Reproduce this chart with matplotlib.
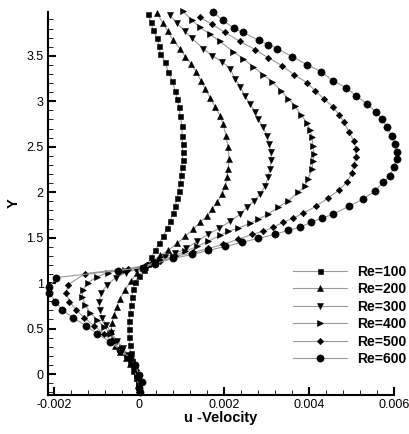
import matplotlib
matplotlib.use("Agg")
import matplotlib.pyplot as plt
from matplotlib.ticker import MultipleLocator, FixedLocator, FixedFormatter

plt.rcParams['font.family'] = ['Liberation Sans', 'DejaVu Sans']

# u-velocity profiles along Y for each Reynolds number
y_100 = [3.956, 3.867, 3.779, 3.691, 3.613, 3.525, 3.436, 3.326, 3.227, 3.116, 3.028, 2.939,
         2.840, 2.729, 2.619, 2.530, 2.442, 2.354, 2.276, 2.188, 2.099, 2.011, 1.934, 1.845,
         1.768, 1.680, 1.602, 1.514, 1.436, 1.359, 1.282, 1.215, 1.149, 1.083, 1.017, 0.939,
         0.851, 0.762, 0.674, 0.586, 0.497, 0.409, 0.320, 0.232, 0.144, 0.066, -0.011, -0.099, -0.188]
u_100 = [0.000212, 0.000282, 0.000329, 0.000424, 0.000471, 0.000494, 0.000612, 0.000682, 0.000776,
         0.000847, 0.000894, 0.000941, 0.000965, 0.001012, 0.001012, 0.001024, 0.001024, 0.001024,
         0.001012, 0.000988, 0.000965, 0.000929, 0.000894, 0.000847, 0.000800, 0.000729, 0.000659,
         0.000565, 0.000471, 0.000376, 0.000282, 0.000212, 0.000118, 0.0, -0.000094, -0.000141,
         -0.000165, -0.000188, -0.000212, -0.000235, -0.000235, -0.000235, -0.000224, -0.000200,
         -0.000165, -0.000118, -0.000071, -0.000024, 0.0]

y_200 = [3.967, 3.856, 3.768, 3.669, 3.580, 3.492, 3.414, 3.326, 3.227, 3.138, 3.039, 2.939,
         2.840, 2.751, 2.619, 2.497, 2.365, 2.254, 2.166, 2.066, 1.978, 1.890, 1.812, 1.735,
         1.669, 1.591, 1.514, 1.436, 1.359, 1.304, 1.238, 1.182, 1.116, 1.028, 0.928, 0.829,
         0.740, 0.652, 0.564, 0.475, 0.387, 0.309, 0.243, 0.177, 0.111, 0.033, -0.044, -0.122, -0.199]
u_200 = [0.000424, 0.000565, 0.000682, 0.000800, 0.000965, 0.001082, 0.001224, 0.001341, 0.001459,
         0.001553, 0.001671, 0.001788, 0.001906, 0.001976, 0.002047, 0.002094, 0.002118, 0.002094,
         0.002071, 0.002024, 0.001953, 0.001835, 0.001718, 0.001600, 0.001435, 0.001271, 0.001082,
         0.000894, 0.000682, 0.000494, 0.000306, 0.000141, -0.000047, -0.000188, -0.000329,
         -0.000447, -0.000518, -0.000588, -0.000635, -0.000659, -0.000635, -0.000565, -0.000447,
         -0.000306, -0.000212, -0.000118, -0.000047, -0.000024, 0.0]

y_300 = [3.945, 3.856, 3.768, 3.691, 3.580, 3.503, 3.436, 3.359, 3.249, 3.160, 3.061, 2.972,
         2.884, 2.807, 2.718, 2.619, 2.530, 2.442, 2.354, 2.254, 2.166, 2.066, 1.978, 1.901,
         1.834, 1.757, 1.680, 1.602, 1.536, 1.459, 1.381, 1.326, 1.282, 1.227, 1.182, 1.149,
         1.116, 1.061, 0.983, 0.895, 0.796, 0.707, 0.619, 0.541, 0.453, 0.365, 0.287, 0.210,
         0.133, 0.044, -0.044, -0.122, -0.199]
u_300 = [0.000729, 0.000894, 0.001082, 0.001247, 0.001506, 0.001718, 0.001953, 0.002141, 0.002259,
         0.002376, 0.002494, 0.002612, 0.002729, 0.002800, 0.002918, 0.003012, 0.003059, 0.003106,
         0.003106, 0.003082, 0.003035, 0.002965, 0.002847, 0.002706, 0.002541, 0.002376, 0.002141,
         0.001882, 0.001624, 0.001365, 0.001106, 0.000847, 0.000612, 0.000376, 0.000188, -0.000071,
         -0.000306, -0.000541, -0.000753, -0.000894, -0.000941, -0.000918, -0.000871, -0.000776,
         -0.000659, -0.000518, -0.000376, -0.000259, -0.000165, -0.000094, -0.000047, 0.0, 0.0]

y_400 = [3.989, 3.890, 3.812, 3.735, 3.658, 3.547, 3.470, 3.381, 3.293, 3.216, 3.116, 3.028,
         2.950, 2.851, 2.763, 2.685, 2.608, 2.508, 2.420, 2.343, 2.254, 2.144, 2.066, 2.000,
         1.901, 1.834, 1.757, 1.702, 1.658, 1.602, 1.569, 1.525, 1.459, 1.403, 1.348, 1.293,
         1.249, 1.204, 1.171, 1.149, 1.116, 1.072, 1.006, 0.928, 0.851, 0.762, 0.674, 0.597,
         0.519, 0.442, 0.365, 0.287, 0.210, 0.133, 0.044, -0.044, -0.133, -0.199]
u_400 = [0.001035, 0.001247, 0.001435, 0.001671, 0.001906, 0.002212, 0.002447, 0.002682, 0.002918,
         0.003129, 0.003341, 0.003506, 0.003671, 0.003812, 0.003953, 0.004024, 0.004071, 0.004094,
         0.004118, 0.004094, 0.004071, 0.003976, 0.003906, 0.003741, 0.003506, 0.003271, 0.003035,
         0.002800, 0.002612, 0.002329, 0.002094, 0.001906, 0.001624, 0.001365, 0.001082, 0.000800,
         0.000494, 0.000259, 0.000094, -0.000329, -0.000729, -0.000988, -0.001200, -0.001318,
         -0.001341, -0.001271, -0.001153, -0.000988, -0.000824, -0.000682, -0.000541, -0.000400,
         -0.000282, -0.000188, -0.000118, -0.000047, 0.0, 0.000024]

y_500 = [3.923, 3.845, 3.757, 3.658, 3.569, 3.481, 3.392, 3.293, 3.205, 3.116, 3.028, 2.939,
         2.851, 2.774, 2.663, 2.564, 2.475, 2.387, 2.298, 2.210, 2.111, 2.022, 1.934, 1.845,
         1.768, 1.713, 1.669, 1.613, 1.569, 1.536, 1.481, 1.425, 1.381, 1.337, 1.293, 1.238,
         1.193, 1.160, 1.105, 0.983, 0.895, 0.796, 0.707, 0.619, 0.530, 0.442, 0.354, 0.276,
         0.199, 0.122, 0.044, -0.044, -0.122, -0.199]
u_500 = [0.001435, 0.001718, 0.002024, 0.002376, 0.002729, 0.003035, 0.003365, 0.003647, 0.003953,
         0.004141, 0.004353, 0.004565, 0.004706, 0.004824, 0.004941, 0.005059, 0.005106, 0.005106,
         0.005059, 0.005012, 0.004894, 0.004706, 0.004447, 0.004165, 0.003859, 0.003624, 0.003388,
         0.003153, 0.002918, 0.002659, 0.002329, 0.001976, 0.001624, 0.001271, 0.000847, 0.000494,
         0.000141, -0.000259, -0.001271, -0.001671, -0.001718, -0.001647, -0.001482, -0.001294,
         -0.001059, -0.000824, -0.000635, -0.000447, -0.000282, -0.000165, -0.000071, -0.000024,
         0.0, 0.0]

y_600 = [3.978, 3.890, 3.801, 3.757, 3.669, 3.624, 3.580, 3.492, 3.403, 3.326, 3.227, 3.149,
         3.061, 2.972, 2.884, 2.807, 2.718, 2.619, 2.530, 2.442, 2.365, 2.276, 2.177, 2.110,
         2.011, 1.923, 1.845, 1.757, 1.713, 1.669, 1.613, 1.580, 1.536, 1.492, 1.448, 1.403,
         1.359, 1.315, 1.271, 1.215, 1.171, 1.138, 1.061, 0.961, 0.895, 0.796, 0.707, 0.619,
         0.530, 0.442, 0.354, 0.265, 0.177, 0.099, -0.011, -0.088, -0.155, -0.199]
u_600 = [0.001741, 0.001976, 0.002235, 0.002447, 0.002824, 0.003035, 0.003247, 0.003600, 0.003953,
         0.004282, 0.004565, 0.004871, 0.005106, 0.005365, 0.005576, 0.005718, 0.005835, 0.005953,
         0.006024, 0.006071, 0.006071, 0.006000, 0.005906, 0.005741, 0.005553, 0.005271, 0.004941,
         0.004565, 0.004306, 0.004047, 0.003788, 0.003506, 0.003200, 0.002800, 0.002424, 0.002024,
         0.001624, 0.001247, 0.000800, 0.000376, 0.000094, -0.000494, -0.001953, -0.002118,
         -0.002118, -0.001976, -0.001812, -0.001553, -0.001247, -0.000988, -0.000682, -0.000447,
         -0.000212, -0.000094, 0.0, 0.000071, 0.0, 0.000024]

labels = ['Re=100', 'Re=200', 'Re=300', 'Re=400', 'Re=500', 'Re=600']
x_ticks = [-0.002, 0, 0.002, 0.004, 0.006]
x_tick_labels = ['-0.002', '0', '0.002', '0.004', '0.006']
y_ticks = [0, 0.5, 1, 1.5, 2, 2.5, 3, 3.5]
y_tick_labels = ['0', '0.5', '1', '1.5', '2', '2.5', '3', '3.5']

series = [(u_100, y_100), (u_200, y_200), (u_300, y_300),
          (u_400, y_400), (u_500, y_500), (u_600, y_600)]
markers = [('s', 3.6), ('^', 4.0), ('v', 4.0), ('>', 4.0), ('D', 3.3), ('o', 5.2)]

fig = plt.figure(figsize=(4.09, 4.34), dpi=100)
ax = fig.add_axes([0.117, 0.090, 0.846, 0.882])

for (u, y), (m, ms), lab in zip(series, markers, labels):
    ax.plot(u, y, color='#9a9a9a', lw=0.8, marker=m, ms=ms,
            mfc='black', mec='black', mew=0.4, label=lab, clip_on=False)

ax.set_xlim(-0.00215, 0.006)
ax.set_ylim(-0.23, 3.98)

for s in ['top', 'right']:
    ax.spines[s].set_visible(False)
for s in ['left', 'bottom']:
    ax.spines[s].set_linewidth(1.5)

ax.xaxis.set_major_locator(FixedLocator(x_ticks))
ax.xaxis.set_major_formatter(FixedFormatter(x_tick_labels))
ax.xaxis.set_minor_locator(MultipleLocator(0.0004))
ax.yaxis.set_major_locator(FixedLocator(y_ticks))
ax.yaxis.set_major_formatter(FixedFormatter(y_tick_labels))
ax.yaxis.set_minor_locator(MultipleLocator(0.1))
ax.tick_params(which='major', direction='in', length=6, width=1.5, labelsize=9, pad=3)
ax.tick_params(which='minor', direction='in', length=3.5, width=0.6)

ax.set_xlabel('u -Velocity', fontsize=10.5, fontweight='bold', labelpad=0)
ax.set_ylabel('Y', fontsize=10.5, fontweight='bold', labelpad=4)

ax.legend(loc='upper left', bbox_to_anchor=(0.716, 0.390), bbox_transform=fig.transFigure,
          frameon=False, borderaxespad=0, borderpad=0, handlelength=3.9, handletextpad=0.7,
          labelspacing=0.25, prop={'weight': 'bold', 'size': 10})

fig.savefig('out.png', dpi=100)
